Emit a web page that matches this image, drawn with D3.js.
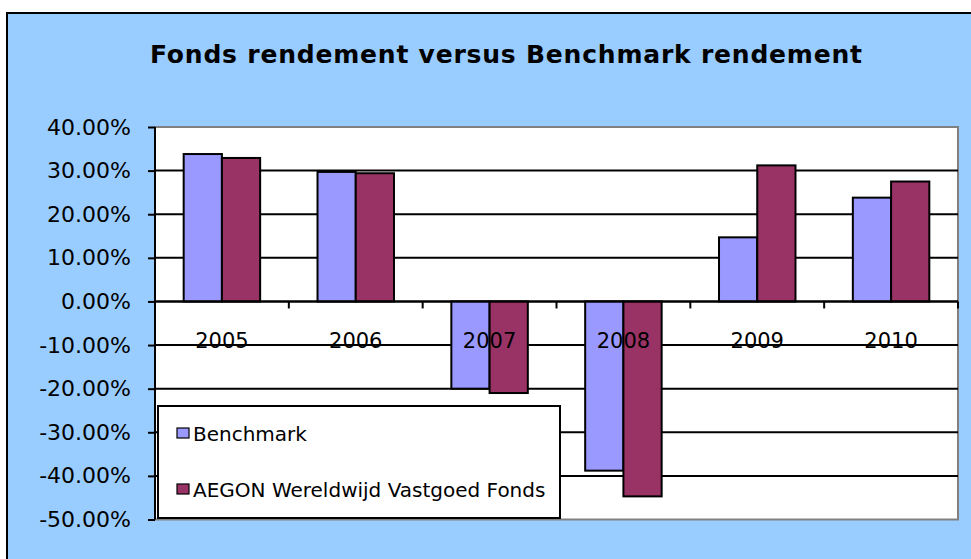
<!DOCTYPE html>
<html><head><meta charset="utf-8">
<script src="https://cdn.jsdelivr.net/npm/d3@7"></script>
<style>html,body{margin:0;padding:0;background:#fff;}svg{display:block;}</style>
</head><body>
<script>
const categories = ["2005","2006","2007","2008","2009","2010"];
const seriesNames = ["Benchmark","AEGON Wereldwijd Vastgoed Fonds"];
const benchmark = [33.8, 29.7, -20.0, -38.8, 14.7, 23.8];
const fund = [32.9, 29.4, -21.0, -44.7, 31.2, 27.5];
const yTicks = [40, 30, 20, 10, 0, -10, -20, -30, -40, -50];
const colors = ["#9999FF", "#993366"];
const title = "Fonds rendement versus Benchmark rendement";

const W = 971, H = 559;
const svg = d3.select("body").append("svg").attr("width", W).attr("height", H);
const font = "DejaVu Sans, Verdana, sans-serif";

// chart background
svg.append("rect").attr("x", 7).attr("y", 13).attr("width", W + 10).attr("height", H + 10)
  .attr("fill", "#99CCFF").attr("stroke", "#000").attr("stroke-width", 2);

svg.append("text").attr("x", 506).attr("y", 63).attr("text-anchor", "middle")
  .attr("font-family", font).attr("font-weight", "bold").attr("font-size", 25)
  .attr("textLength", 712).attr("lengthAdjust", "spacing")
  .text(title);

const x = d3.scaleBand().domain(categories).range([155, 958]);
const y = d3.scaleLinear().domain([-50, 40]).range([519.5, 127]);

// plot area
svg.append("rect").attr("x", 155).attr("y", 127).attr("width", 803).attr("height", 392.5)
  .attr("fill", "#fff").attr("stroke", "#808080").attr("stroke-width", 2);

// gridlines
svg.append("g").selectAll("line").data(yTicks.filter(d => d !== 40 && d !== -50)).join("line")
  .attr("x1", 155).attr("x2", 958).attr("y1", d => y(d)).attr("y2", d => y(d))
  .attr("stroke", "#000").attr("stroke-width", 2);

// bars
const series = [benchmark, fund];
const bw = x.bandwidth() / 3.5;
const gap = bw * 0.75;
series.forEach((vals, si) => {
  svg.append("g").selectAll("rect").data(vals).join("rect")
    .attr("x", (d, i) => x(categories[i]) + gap + si * bw)
    .attr("width", bw)
    .attr("y", d => Math.min(y(d), y(0)))
    .attr("height", d => Math.abs(y(d) - y(0)))
    .attr("fill", colors[si]).attr("stroke", "#000").attr("stroke-width", 2);
});

// y axis
const yAxis = d3.axisLeft(y).tickValues(yTicks).tickSize(7).tickPadding(17)
  .tickFormat(d => d.toFixed(2) + "%");
const gy = svg.append("g").attr("transform", "translate(155,0)").call(yAxis);
gy.select(".domain").attr("stroke", "#000").attr("stroke-width", 2).attr("d", "M0,127V519.5");
gy.selectAll(".tick line").attr("stroke", "#000").attr("stroke-width", 2);
gy.selectAll("text").attr("font-family", font).attr("font-size", 22).attr("fill", "#000");

// x axis at zero
const xTickPos = categories.map(c => x(c)).concat([958]);
const gx = svg.append("g");
gx.append("line").attr("x1", 155).attr("x2", 958).attr("y1", y(0)).attr("y2", y(0))
  .attr("stroke", "#000").attr("stroke-width", 2);
gx.selectAll("line.t").data(xTickPos).join("line").attr("class", "t")
  .attr("x1", d => d).attr("x2", d => d).attr("y1", y(0)).attr("y2", y(0) + 7)
  .attr("stroke", "#000").attr("stroke-width", 2);
gx.selectAll("text").data(categories).join("text")
  .attr("x", d => x(d) + x.bandwidth() / 2).attr("y", y(0) + 47)
  .attr("text-anchor", "middle").attr("font-family", font).attr("font-size", 21)
  .text(d => d);

// legend
const lg = svg.append("g");
lg.append("rect").attr("x", 158).attr("y", 406).attr("width", 402).attr("height", 112)
  .attr("fill", "#fff").attr("stroke", "#000").attr("stroke-width", 2);
const ly = [433, 489];
seriesNames.forEach((n, i) => {
  lg.append("rect").attr("x", 177).attr("y", ly[i] - 5).attr("width", 12).attr("height", 10)
    .attr("fill", colors[i]).attr("stroke", "#000").attr("stroke-width", 1.2);
  lg.append("text").attr("x", 193).attr("y", ly[i] + 8).attr("font-family", font)
    .attr("font-size", 20).text(n);
});
</script>
</body></html>
